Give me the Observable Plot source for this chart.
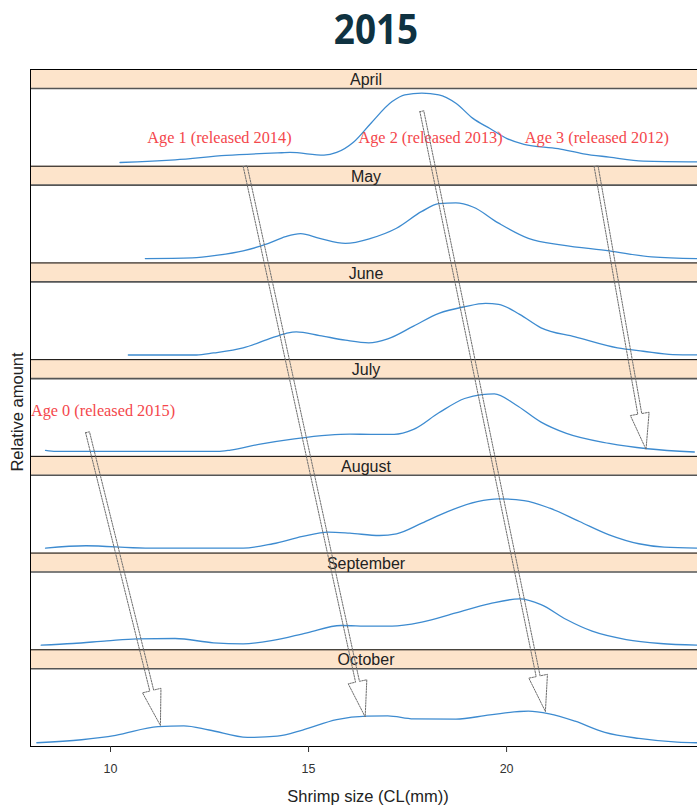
<!DOCTYPE html>
<html>
<head>
<meta charset="utf-8">
<script src="https://cdn.jsdelivr.net/npm/d3@7"></script>
<script src="https://cdn.jsdelivr.net/npm/@observablehq/plot@0.6"></script>
<style>
  html, body { margin: 0; padding: 0; background: #fff; }
  #wrap { position: relative; width: 697px; height: 807px; overflow: hidden; }
  #title {
    position: absolute; top: 8px; left: 375.5px; transform: translateX(-50%) scaleX(0.9);
    margin: 0; white-space: nowrap;
    font-family: "Open Sans", "Liberation Sans", Arial, sans-serif;
    font-weight: 700; font-size: 41px; line-height: 41px;
    color: #0f3241;
  }
  #chart { position: absolute; top: 60px; left: 0; }
</style>
</head>
<body>
<div id="wrap">
  <h1 id="title">2015</h1>
  <div id="chart"></div>
</div>
<script>
// Monthly size-frequency curves: [carapace length (mm), relative amount]
const months = ["April", "May", "June", "July", "August", "September", "October"];

const april = [[10.24,.048],[10.67,.056],[11.63,.082],[12.92,.139],[14.32,.173],[14.53,.177],[15.39,.143],[15.71,.177],[16.14,.312],[16.57,.55],[17.11,.831],[17.43,.918],[17.86,.939],[18.29,.918],[18.72,.81],[19.15,.615],[19.58,.485],[20.01,.355],[20.44,.281],[21.30,.225],[21.94,.16],[22.59,.117],[23.45,.065],[24.82,.056]];
const may = [[10.88,.056],[12.06,.065],[12.71,.10],[13.35,.156],[13.99,.251],[14.42,.338],[14.80,.377],[15.28,.316],[15.93,.251],[16.57,.316],[17.22,.446],[17.86,.662],[18.29,.762],[18.72,.771],[19.15,.719],[19.80,.511],[20.55,.316],[21.41,.229],[22.59,.156],[23.66,.078],[24.82,.056]];
const june = [[10.45,.06],[12.17,.06],[12.60,.086],[13.35,.151],[14.0,.267],[14.42,.336],[14.69,.358],[15.28,.31],[15.93,.25],[16.52,.216],[17.0,.267],[17.65,.431],[18.29,.595],[18.94,.681],[19.47,.724],[19.80,.711],[20.33,.582],[20.87,.409],[21.73,.293],[22.80,.151],[23.45,.108],[24.20,.065],[24.82,.06]];
const july = [[8.36,.077],[8.62,.064],[12.71,.064],[13.03,.081],[13.78,.158],[14.64,.226],[15.50,.274],[16.04,.286],[16.57,.282],[17.16,.282],[17.65,.346],[18.29,.56],[18.94,.744],[19.37,.795],[19.69,.803],[20.22,.667],[20.87,.44],[21.51,.295],[22.59,.167],[23.56,.098],[24.74,.056]];
const august = [[8.36,.064],[9.38,.094],[10.88,.064],[13.35,.064],[14.10,.12],[14.85,.214],[15.50,.269],[16.04,.256],[16.79,.226],[17.22,.248],[17.86,.385],[18.51,.534],[19.26,.662],[19.80,.697],[20.44,.675],[21.09,.577],[21.84,.406],[22.59,.235],[23.34,.12],[23.98,.077],[24.82,.064]];
const september = [[8.25,.06],[9.05,.081],[9.91,.115],[10.67,.141],[11.63,.145],[12.60,.09],[13.35,.077],[14.10,.12],[14.96,.218],[15.82,.312],[16.57,.303],[17.11,.303],[17.86,.355],[18.72,.474],[19.58,.594],[20.33,.654],[20.87,.581],[21.51,.389],[22.16,.239],[23.02,.132],[23.88,.081],[24.82,.06]];
const october = [[8.14,.048],[9.27,.087],[10.13,.143],[11.20,.255],[11.85,.264],[12.49,.212],[13.46,.117],[14.21,.134],[14.85,.212],[15.71,.346],[16.47,.39],[17.0,.394],[17.65,.355],[18.72,.351],[19.58,.407],[20.55,.455],[21.08,.42],[21.73,.325],[22.48,.182],[23.34,.104],[24.31,.056],[24.82,.048]];

const sizeTicks = [10, 15, 20];
const sizeRange = [7.98, 24.82];

// Cohort labels: text, size (mm) of its left end, month panel, level within the panel
const cohortText  = ["Age 1 (released 2014)", "Age 2 (released 2013)", "Age 3 (released 2012)", "Age 0 (released 2015)"];
const cohortSize  = [10.93, 16.26, 20.46, 7.99];
const cohortMonth = ["April", "April", "April", "July"];
const cohortLevel = [0.37, 0.37, 0.37, 0.59];

// Growth arrows following each cohort: from (size, month, level) to (size, month, level)
const arrowFromSize  = [13.40, 17.86, 22.26, 9.42];
const arrowFromMonth = ["April", "April", "April", "July"];
const arrowFromLevel = [0.0, 0.707, 0.0, 0.31];
const arrowToSize    = [16.43, 20.98, 23.52, 11.26];
const arrowToMonth   = ["October", "October", "July", "October"];
const arrowToLevel   = [0.38, 0.45, 0.09, 0.27];

const curves = [april, may, june, july, august, september, october];

// ---- layout ----
const W = 697, H = 747, mL = 30, mR = 0, mT = 9, mB = 61;
const strip = 19 / 78;          // strip height relative to a panel
const step = 1 + strip;
const yMax = months.length * step;
const base = m => (months.length - 1 - months.indexOf(m)) * step;

const curveRows = months.flatMap((m, i) =>
  curves[i].map(([size, amount]) => ({month: m, size, amount, y: base(m) + amount})));

const stripRows = months.map(m => ({month: m, y1: base(m) + 1, y2: base(m) + step}));

const labelRows = cohortText.map((t, i) => ({text: t, x: cohortSize[i], y: base(cohortMonth[i]) + cohortLevel[i]}));

// block-arrow outlines, built in screen space then mapped back to data units
const sx = d3.scaleLinear(sizeRange, [mL, W - mR]);
const sy = d3.scaleLinear([0, yMax], [H - mB, mT]);
const shaftHalf = 2, headHalf = 9.5, headLen = 36;
const arrowRows = arrowFromSize.flatMap((_, i) => {
  const S = [sx(arrowFromSize[i]), sy(base(arrowFromMonth[i]) + arrowFromLevel[i])];
  const T = [sx(arrowToSize[i]), sy(base(arrowToMonth[i]) + arrowToLevel[i])];
  const len = Math.hypot(T[0] - S[0], T[1] - S[1]);
  const u = [(T[0] - S[0]) / len, (T[1] - S[1]) / len];
  const n = [-u[1], u[0]];
  const B = [T[0] - u[0] * headLen, T[1] - u[1] * headLen];
  const p = (P, k) => [P[0] + n[0] * k, P[1] + n[1] * k];
  const pts = [p(S, shaftHalf), p(B, shaftHalf), p(B, headHalf), T, p(B, -headHalf), p(B, -shaftHalf), p(S, -shaftHalf), p(S, shaftHalf)];
  return pts.map(([px, py]) => ({id: i, x: sx.invert(px), y: sy.invert(py)}));
});

const chart = Plot.plot({
  width: W, height: H,
  marginLeft: mL, marginRight: mR, marginTop: mT, marginBottom: mB,
  style: {fontFamily: "'Liberation Sans', Arial, sans-serif", background: "white", overflow: "visible"},
  x: {domain: sizeRange},
  y: {domain: [0, yMax], axis: null},
  marks: [
    // strips
    Plot.rect(stripRows, {x1: sizeRange[0], x2: sizeRange[1], y1: "y1", y2: "y2", fill: "#fde4cb"}),
    Plot.ruleY(stripRows, {y: "y1", stroke: "#555", strokeWidth: 1.6}),
    Plot.ruleY(stripRows, {y: "y2", stroke: "#000", strokeWidth: 1}),
    Plot.ruleY([0], {stroke: "#000", strokeWidth: 1}),
    Plot.ruleX([sizeRange[0]], {y1: 0, y2: yMax, stroke: "#000", strokeWidth: 1}),
    Plot.text(stripRows, {x: (sizeRange[0] + sizeRange[1]) / 2, y: d => (d.y1 + d.y2) / 2, dx: 2, dy: 1, text: "month", fontSize: 16, fill: "#222"}),
    // size-frequency curves
    Plot.line(curveRows, {x: "size", y: "y", z: "month", stroke: "#3d8bd0", strokeWidth: 1.3, curve: "monotone-x"}),
    // cohort labels
    Plot.text(labelRows, {x: "x", y: "y", text: "text", textAnchor: "start", fontFamily: "'Liberation Serif', 'Times New Roman', serif", fontSize: 16.3, fill: "#f4474c"}),
    // cohort growth arrows
    Plot.line(arrowRows, {x: "x", y: "y", z: "id", stroke: "#6e6e6e", strokeWidth: 1, strokeDasharray: "1.6,1.2", curve: "linear"}),
    // axes
    Plot.axisX({ticks: sizeTicks, tickSize: 6, tickPadding: 12, label: null, fontSize: 12.5, color: "#333"}),
    Plot.text(["Shrimp size (CL(mm))"], {frameAnchor: "bottom", dx: 4, dy: 55, fontSize: 16.5, fill: "#222"}),
    Plot.text(["Relative amount"], {frameAnchor: "left", textAnchor: "middle", dx: -13, dy: 4, rotate: -90, fontSize: 16.5, fill: "#222"})
  ]
});
document.getElementById("chart").append(chart);
</script>
</body>
</html>
